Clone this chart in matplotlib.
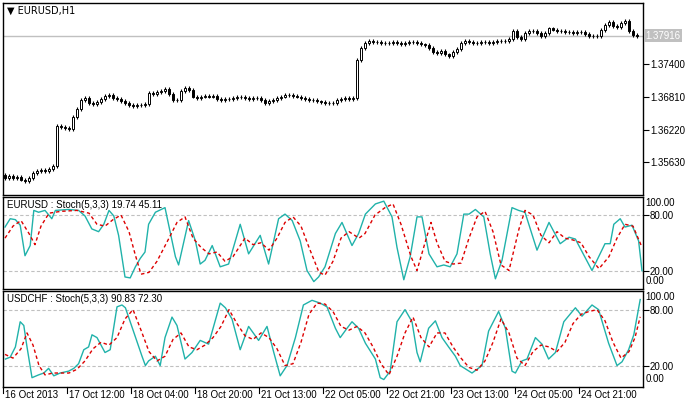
import numpy as np
import matplotlib
matplotlib.use("Agg")
import matplotlib.pyplot as plt

# ---------------- data ----------------
closes = [
    1.3535, 1.3538, 1.3534, 1.3536, 1.3532, 1.3529, 1.3535, 1.3544, 1.3547, 1.3549, 1.3547, 1.3551, 1.3556,
    1.3629,
    1.3627, 1.3625, 1.3624, 1.3645, 1.3660,
    1.3675, 1.3680, 1.3670, 1.3668, 1.3672, 1.3678,
    1.3683, 1.3685, 1.3680, 1.3677, 1.3674, 1.3670, 1.3667, 1.3665, 1.3666, 1.3667, 1.3668,
    1.3688, 1.3686, 1.3690, 1.3692, 1.3696, 1.3686,
    1.3676, 1.3675, 1.3692, 1.3697,
    1.3694, 1.3682, 1.3680, 1.3682, 1.3683, 1.3682, 1.3683,
    1.3678, 1.3676, 1.3677, 1.3678, 1.3680, 1.3681, 1.3682, 1.3680, 1.3678, 1.3680,
    1.3679, 1.3676, 1.3670, 1.3674, 1.3676, 1.3680, 1.3682, 1.3684, 1.3685, 1.3683, 1.3682, 1.3680, 1.3678,
    1.3676, 1.3675, 1.3673, 1.3672, 1.3671, 1.3670, 1.3670, 1.3676, 1.3678, 1.3680, 1.3678, 1.3680,
    1.3748, 1.3770, 1.3778,
    1.3782, 1.3780, 1.3781, 1.3779, 1.3778, 1.3779, 1.3780, 1.3778, 1.3777, 1.3779, 1.3781, 1.3780, 1.3778,
    1.3776, 1.3775, 1.3770,
    1.3762, 1.3760, 1.3765, 1.3758, 1.3755, 1.3762, 1.3768,
    1.3778, 1.3783, 1.3780, 1.3779, 1.3778, 1.3780, 1.3781, 1.3779, 1.3780, 1.3782,
    1.3782, 1.3783, 1.3786, 1.3800, 1.3790, 1.3786, 1.3796, 1.3800, 1.3800, 1.3796, 1.3792, 1.3797,
    1.3805, 1.3803, 1.3800, 1.3800, 1.3799, 1.3798, 1.3797, 1.3798, 1.3799, 1.3795, 1.3792, 1.3791,
    1.3792, 1.3802, 1.3812, 1.3816, 1.3810, 1.3808, 1.3815, 1.3818, 1.3800, 1.3793, 1.37916,
]
open_first = 1.3540
wick = 0.00035

eur_k_x = [0, 1.3, 2.6, 3.8, 5, 6.3, 7.2, 8.4, 10, 11.7, 12.6, 15.9, 18.4, 20, 21.7, 23.4, 24.7, 26, 27.2,
           28.4, 30, 31.3, 32.6, 33.8, 35, 35.9, 37.6, 40, 42.6, 43.4, 45.9, 47.6, 48.8, 50, 51.8, 53.8,
           55.9, 58.8, 60.9, 62.2, 63.8, 65.9, 68.4, 70, 71.8, 73.8, 75.5, 77.2, 78.4, 80, 82.6, 84.25,
           86.75, 88.4, 90.1, 92.6, 94.7, 96.75, 98, 99.7, 101.3, 103, 104.25, 106, 108, 109.7, 111.3,
           113, 114.7, 116, 117.6, 119.7, 121.3, 122.6, 124.25, 126.75, 128.4, 130, 133, 136, 138.8,
           141, 142.6, 146.75, 150, 151.3, 152.2, 153.8, 155, 156.75, 158.4, 159.25]
eur_k = [67, 76, 75, 69, 36, 47, 85, 83, 85, 76, 85, 86, 85, 79, 65, 62, 70, 85, 79,
         58, 13, 12, 24, 33, 40, 70, 83, 88, 35, 26, 74, 52, 27, 31, 47, 24,
         27, 70, 38, 47, 58, 27, 76, 81, 74, 52, 20, 8, 13, 24, 60, 72,
         47, 60, 81, 92, 95, 78, 45, 10, 35, 78, 78, 38, 24, 26, 24,
         38, 81, 81, 86, 78, 38, 11, 31, 88, 85, 83, 42, 72, 49,
         56, 54, 20, 49, 49, 70, 76, 67, 69, 52, 19.74]
eur_d_x = [0, 2, 4, 6, 7.5, 9, 11, 14, 18, 21, 23, 25, 27, 29, 31, 32.5, 34, 36, 38, 41, 43, 45, 47, 49,
           51, 53, 55, 57, 60, 62, 64, 66, 68, 70, 72, 74, 76, 78.5, 80, 82, 84, 86, 88.5, 90, 92.5, 95,
           97, 99, 101.5, 103, 105, 106.5, 108, 110, 112, 114, 116, 118, 120, 122, 124, 126, 128.5, 130,
           132, 134, 136, 138, 140, 142, 144, 146, 148.5, 151, 153, 155, 157, 159.25]
eur_d = [55, 68, 74, 60, 48, 68, 82, 84, 85, 82, 70, 68, 75, 80, 62, 38, 16, 18, 30, 55, 72, 78, 55, 45,
         38, 40, 30, 35, 55, 48, 50, 42, 55, 72, 78, 68, 45, 18, 15, 30, 55, 62, 55, 60, 80, 88,
         92, 70, 35, 20, 50, 72, 50, 30, 27, 28, 55, 78, 84, 62, 26, 20, 65, 85, 80, 58, 50, 62,
         55, 53, 50, 35, 22, 35, 55, 70, 68, 45.11]

chf_k_x = [0.1, 1.3, 2.6, 3.8, 4.7, 5.5, 6.75, 8.4, 9.7, 10.9, 12.2, 13.8, 15.9, 17.2, 18.4, 19.7, 20.9,
           21.75, 23, 25, 26.3, 28, 29.25, 30.1, 31.3, 34.25, 35.1, 35.9, 37.6, 38.8, 40, 41.75, 43, 45,
           46.75, 48.8, 50.9, 53.8, 55.1, 56.75, 58.8, 60.9, 63.4, 65.5, 67.2, 68.8, 70.5, 72.6, 74.6,
           76.75, 78.8, 80.5, 82.6, 83.8, 85.5, 86.75,
           88.4, 90.1, 92.6, 93.8, 94.7, 96.3, 98, 100, 101.75, 103, 103.8, 105.9, 107.6, 109.25, 110.9,
           112.6, 113.8, 116.75, 119.25, 120.9, 123.4, 125.1, 126.75, 127.6, 129.25, 130.5, 132.6,
           134.25, 135.9, 137.6, 139.7, 142.6, 144.25, 146.75, 148.4, 150.9, 153, 154.25, 155.9, 157.2,
           158.8]
chf_k = [27, 29, 40, 67, 63, 40, 7, 10, 12, 17, 9, 12, 14, 17, 22, 37, 40,
         53, 50, 34, 37, 83, 85, 82, 67, 30, 20, 25, 30, 20, 50, 72, 63, 27,
         34, 47, 43, 87, 82, 70, 37, 62, 47, 62, 34, 9, 20, 50, 85,
         90, 87, 83, 60, 50, 60, 67,
         60, 44, 27, 7, 5, 14, 67, 80, 67, 34, 24, 60, 68, 50, 40,
         30, 20, 12, 20, 57, 78, 60, 14, 12, 25, 27, 50,
         43, 27, 34, 67, 82, 73, 85, 80, 44, 20, 24, 37, 53,
         90.83]
chf_d_x = [0, 2, 4, 5.5, 7, 8.5, 10, 12, 14, 16, 18, 20, 22, 24, 26, 28, 30, 32, 34, 36, 38, 40, 42, 44,
           46, 48, 50, 52, 54, 56, 58, 60, 62, 64, 66, 68, 70, 72, 74, 76, 78, 80, 82, 84, 86, 88, 90,
           92, 94, 96, 98, 100, 102, 104, 106, 108, 110, 112, 114, 116, 118, 120, 122, 124, 126, 128,
           130, 132, 134, 136, 138, 140, 142, 144, 146, 148, 150, 152, 154, 156, 157.5, 158.8]
chf_d = [32, 28, 38, 55, 42, 20, 10, 12, 12, 12, 16, 25, 38, 45, 42, 50, 70, 80, 58, 35, 25, 30, 48, 55,
         40, 37, 42, 50, 62, 80, 65, 52, 48, 55, 50, 38, 20, 22, 45, 75, 87, 86, 78, 62, 58, 62, 55,
         40, 22, 10, 30, 55, 72, 50, 40, 55, 55, 40, 28, 18, 15, 25, 45, 70, 55, 28,
         20, 35, 42, 40, 35, 45, 65, 75, 78, 80, 68, 45, 28, 35, 50, 72.30]

x_labels = ["16 Oct 2013", "17 Oct 12:00", "18 Oct 04:00", "18 Oct 20:00", "21 Oct 13:00",
            "22 Oct 05:00", "22 Oct 21:00", "23 Oct 13:00", "24 Oct 05:00", "24 Oct 21:00"]
price_ticks = [1.35630, 1.36220, 1.36810, 1.37400]
last_price = 1.37916

# ---------------- figure ----------------
W, H = 685, 408
fig = plt.figure(figsize=(W / 100, H / 100), dpi=100)
plt.rcParams["font.family"] = ["Liberation Sans", "DejaVu Sans"]
FS = 7


def px_axes(top, bottom):
    return fig.add_axes([3 / W, 1 - bottom / H, 640 / W, (bottom - top) / H])


ax0 = px_axes(3, 195)
ax1 = px_axes(197, 289)
ax2 = px_axes(291, 387)
XL = (-0.5, 159.5)

for ax in (ax0, ax1, ax2):
    ax.set_xlim(*XL)
    ax.set_xticks([])
    ax.yaxis.tick_right()
    ax.tick_params(axis="y", direction="out", length=4, width=0.8, labelsize=FS, pad=1)
    for s in ax.spines.values():
        s.set_linewidth(1.0)
        s.set_color("black")

# candles
closes_arr = np.array(closes)
opens_arr = np.concatenate([[open_first], closes_arr[:-1]])
xs = np.arange(len(closes_arr))
hi = np.maximum(opens_arr, closes_arr) + wick
lo = np.minimum(opens_arr, closes_arr) - wick
ax0.vlines(xs, lo, hi, color="black", linewidth=0.8, zorder=2)
body_h = np.maximum(np.abs(closes_arr - opens_arr), 0.00004)
body_b = np.minimum(opens_arr, closes_arr)
bull = closes_arr >= opens_arr
ax0.bar(xs[bull], body_h[bull], bottom=body_b[bull], width=0.6, facecolor="white",
        edgecolor="black", linewidth=0.7, zorder=3)
ax0.bar(xs[~bull], body_h[~bull], bottom=body_b[~bull], width=0.6, facecolor="black",
        edgecolor="black", linewidth=0.7, zorder=3)
ax0.set_ylim(1.3504, 1.3851)
ax0.set_yticks(price_ticks)
ax0.set_yticklabels([f"{v:.5f}" for v in price_ticks])
ax0.axhline(last_price, color="#c0c0c0", linewidth=1.0, zorder=1)
ax0.text(1.004, last_price, f"{last_price:.5f}", transform=ax0.get_yaxis_transform(),
         ha="left", va="center", fontsize=FS, color="white",
         bbox=dict(boxstyle="square,pad=0.15", facecolor="#c0c0c0", edgecolor="none"))
ax0.text(0.006, 0.985, "\u25bc EURUSD,H1", transform=ax0.transAxes, ha="left", va="top", fontsize=FS,
         family=["DejaVu Sans"])

# stochastic panels
panels = [
    (ax1, eur_k_x, eur_k, eur_d_x, eur_d, "EURUSD : Stoch(5,3,3) 19.74 45.11", (0, 99.5)),
    (ax2, chf_k_x, chf_k, chf_d_x, chf_d, "USDCHF : Stoch(5,3,3) 90.83 72.30", (-3, 100)),
]
for ax, kx, k, dx, d, title, ylim in panels:
    ax.set_ylim(*ylim)
    for lvl in (20, 80):
        ax.axhline(lvl, color="#c0c0c0", linestyle=(0, (3, 2)), linewidth=0.8, zorder=1)
    ax.plot(kx, k, color="#20b2aa", linewidth=1.0, zorder=3)
    ax.plot(dx, d, color="#dd0000", linewidth=1.0, linestyle=(0, (2.5, 2)), zorder=4)
    ax.set_yticks([20, 80])
    ax.set_yticklabels(["20.00", "80.00"])
    ax.text(1.004, 0.985, "100.00", transform=ax.transAxes, ha="left", va="top", fontsize=FS)
    ax.text(1.004, 0.03, "0.00", transform=ax.transAxes, ha="left", va="bottom", fontsize=FS)
    ax.text(0.006, 0.97, title, transform=ax.transAxes, ha="left", va="top", fontsize=FS)

# time axis under the bottom panel
for i, lab in enumerate(x_labels):
    xb = -0.5 + 16 * i
    ax2.plot([xb, xb], [0.0, -0.06], transform=ax2.get_xaxis_transform(), color="black",
             linewidth=0.8, clip_on=False)
    ax2.text(xb + 0.6, -0.03, lab, transform=ax2.get_xaxis_transform(), ha="left", va="top",
             fontsize=FS)

fig.savefig("out.png", dpi=100)
